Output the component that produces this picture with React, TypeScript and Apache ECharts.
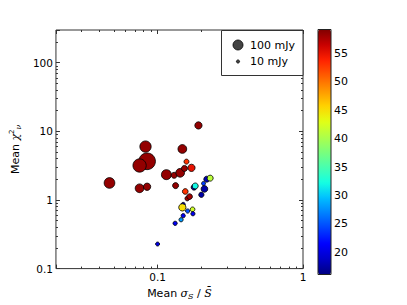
import React, { useEffect, useRef } from 'react';
import * as echarts from 'echarts';

// Mean sigma_S / mean S (x), mean reduced chi^2 (y), flux in mJy (size), colour value
const xValues = [0.0467, 0.0826, 0.0847, 0.0752, 0.0752, 0.0847, 0.115, 0.130, 0.143, 0.153, 0.148, 0.191, 0.133, 0.158, 0.171, 0.155, 0.160, 0.166, 0.150, 0.148, 0.174, 0.161, 0.175, 0.150, 0.145, 0.132, 0.100, 0.178, 0.1815, 0.207, 0.218, 0.230, 0.210, 0.200];
const yValues = [1.77, 6.0, 3.66, 3.18, 1.48, 1.56, 2.34, 2.29, 2.49, 2.88, 5.54, 12.2, 1.62, 3.62, 2.94, 1.33, 1.05, 1.12, 0.86, 0.78, 0.73, 0.69, 0.63, 0.59, 0.515, 0.457, 0.228, 1.53, 1.60, 1.74, 2.01, 2.08, 1.45, 1.19];
const fluxValues = [114, 128, 279, 177, 76, 53, 100, 36, 76, 36, 76, 53, 36, 25, 53, 32, 22, 32, 18, 53, 22, 18, 18, 18, 18, 18, 16, 32, 36, 16, 36, 36, 45, 28];
const colourValues = [58.5, 58.5, 58.5, 58.5, 58.5, 58.5, 58.5, 58.5, 58.5, 58.5, 58.5, 58.5, 58.5, 53, 55, 53, 58, 58, 18, 45, 42, 25, 21, 21, 28, 21, 20, 17, 32, 24, 18, 41, 17.5, 17.5];

const colourMin = 16.1;
const colourMax = 59.2;
const colourTicks = [20, 25, 30, 35, 40, 45, 50, 55];

const legendLabels = ['100 mJy', '10 mJy'];
const legendFluxes = [100, 10];

const JET = ['#000080', '#0000c8', '#0000ff', '#0040ff', '#0080ff', '#00bfff', '#15ffe2', '#48ffaf', '#7bff7b', '#afff48', '#e2ff15', '#ffd200', '#ff9700', '#ff5c00', '#ff2100', '#c80000', '#800000'];

const FONT = 'DejaVu Sans';
const SERIF = 'DejaVu Serif';
const sizeOf = (flux: number) => 10 * Math.sqrt(flux / 100);

const powerLabel = (v: number) => {
  const l = Math.log10(v);
  return Math.abs(l - Math.round(l)) < 1e-6 ? String(v) : '';
};

export default function App() {
  const ref = useRef<HTMLDivElement>(null);
  useEffect(() => {
    if (!ref.current) return;
    const chart = echarts.init(ref.current, null, { renderer: 'svg' });
    const data = xValues.map((x, i) => [x, yValues[i], fluxValues[i], colourValues[i]]);
    const tickStyle = { lineStyle: { color: '#333', width: 1 } };
    const logX = {
      type: 'log', gridIndex: 0, min: 0.02, max: 1,
      axisLine: { show: false },
      axisTick: { inside: true, length: 4, ...tickStyle },
      minorTick: { show: true, splitNumber: 9, length: 2, ...tickStyle },
      splitLine: { show: false }, minorSplitLine: { show: false },
    };
    const logY = { ...logX, min: 0.1, max: 300 };
    const labelStyle = { fontFamily: FONT, fontSize: 10.5, color: '#000' };
    const rich = {
      n: { fontFamily: FONT, fontSize: 11, color: '#000', lineHeight: 14 },
      i: { fontFamily: SERIF, fontStyle: 'italic', fontSize: 11, color: '#000', lineHeight: 14 },
      s: { fontFamily: SERIF, fontStyle: 'italic', fontSize: 8, color: '#000', lineHeight: 8, verticalAlign: 'bottom' },
      p: { fontFamily: FONT, fontSize: 7, color: '#000', lineHeight: 7, verticalAlign: 'top' },
    };
    const legendItems: any[] = [
      { type: 'rect', z: 100, shape: { x: 221.5, y: 30.5, width: 81.5, height: 45 }, style: { fill: '#fff', stroke: '#333', lineWidth: 1 } },
    ];
    legendLabels.forEach((lab, i) => {
      const cy = 45 + i * 16.5;
      legendItems.push({ type: 'circle', z: 101, shape: { cx: 238, cy, r: sizeOf(legendFluxes[i]) / 2 }, style: { fill: '#444', stroke: '#000', lineWidth: 0.8 } });
      legendItems.push({ type: 'text', z: 101, x: 250, y: cy, style: { text: lab, fontFamily: FONT, fontSize: 11, fill: '#000', align: 'left', verticalAlign: 'middle' } });
    });
    legendItems.push({ type: 'rect', z: 100, shape: { x: 318, y: 29.5, width: 13, height: 245 }, style: { fill: 'none', stroke: '#222', lineWidth: 1 } });

    const option: any = {
      animation: false,
      backgroundColor: '#fff',
      textStyle: { fontFamily: FONT },
      grid: [
        { left: 51, right: 104, top: 30, bottom: 30, show: true, borderColor: '#333', borderWidth: 1, backgroundColor: 'transparent' },
        { left: 318, top: 29.5, width: 13, height: 245, show: false },
      ],
      xAxis: [
        {
          ...logX, position: 'bottom',
          axisLabel: { ...labelStyle, margin: 3, formatter: powerLabel },
          name: '{n|Mean }{i|σ}{s|S}{n| / }{i|S\u0304}',
          nameLocation: 'middle', nameGap: 12,
          nameTextStyle: { rich },
        },
        { ...logX, position: 'top', axisLabel: { show: false } },
        { type: 'value', gridIndex: 1, min: 0, max: 1, show: false },
      ],
      yAxis: [
        {
          ...logY, position: 'left',
          axisLabel: { ...labelStyle, margin: 3, formatter: powerLabel },
          name: '{n|Mean }{i|χ}{p|2}{s|ν}',
          nameLocation: 'middle', nameGap: 26,
          nameTextStyle: { rich },
        },
        { ...logY, position: 'right', axisLabel: { show: false } },
        {
          type: 'value', gridIndex: 1, min: colourMin, max: colourMax, position: 'right',
          axisLine: { show: false }, splitLine: { show: false },
          axisTick: { show: true, inside: false, length: 2, customValues: colourTicks, lineStyle: { color: '#222' } },
          axisLabel: { ...labelStyle, fontSize: 11, margin: 3, customValues: colourTicks },
        },
      ],
      visualMap: {
        type: 'continuous', seriesIndex: 0, dimension: 3,
        min: colourMin, max: colourMax,
        inRange: { color: JET },
        left: 318, top: 29.5, itemWidth: 13, itemHeight: 245, padding: 0,
        calculable: false, hoverLink: false,
      },
      graphic: legendItems,
      series: [
        {
          type: 'scatter', xAxisIndex: 0, yAxisIndex: 0,
          data,
          symbolSize: (v: number[]) => sizeOf(v[2]),
          itemStyle: { borderColor: '#000', borderWidth: 0.8, opacity: 1 },
        },
      ],
    };
    chart.setOption(option);
    return () => chart.dispose();
  }, []);
  return <div ref={ref} style={{ width: 407, height: 305, position: 'absolute', left: 0, top: 0 }} />;
}
